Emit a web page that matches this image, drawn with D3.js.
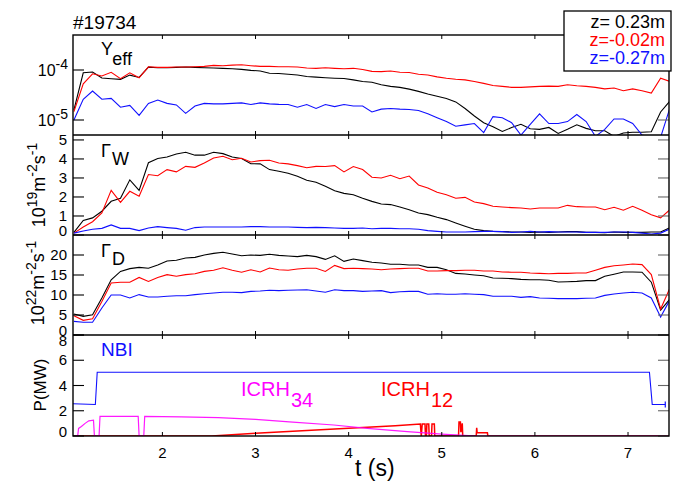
<!DOCTYPE html>
<html><head><meta charset="utf-8">
<script src="https://cdn.jsdelivr.net/npm/d3@7"></script>
<style>body{margin:0;background:#fff} text{font-family:"Liberation Sans",Arial,Helvetica,sans-serif}</style>
</head><body><script>
// ---------- DATA ----------
const time = [1.05,1.15,1.25,1.35,1.45,1.55,1.65,1.75,1.85,1.95,2.05,2.15,2.25,2.35,2.45,2.55,2.65,2.75,2.85,2.95,
  3.05,3.15,3.25,3.35,3.45,3.55,3.65,3.75,3.85,3.95,4.05,4.15,4.25,4.35,4.45,4.55,4.65,4.75,4.85,4.95,
  5.05,5.15,5.25,5.35,5.45,5.55,5.65,5.75,5.85,5.95,6.05,6.15,6.25,6.35,6.45,6.55,6.65,6.75,6.85,6.95,
  7.05,7.15,7.25,7.35,7.45];

const yeffTop = [1.6e-5,8.8e-5,9.1e-5,6.9e-5,6.7e-5,6.5e-5,7.9e-5,7.1e-5,1.14e-4,1.11e-4,
  1.11e-4,1.13e-4,1.15e-4,1.13e-4,1.11e-4,1.1e-4,1.08e-4,1.06e-4,1.03e-4,9.85e-5,
  9.55e-5,8.6e-5,8.5e-5,8.2e-5,7.97e-5,7.4e-5,7.2e-5,7.0e-5,6.85e-5,6.75e-5,
  6.35e-5,5.9e-5,5.7e-5,5.06e-5,4.7e-5,4.5e-5,4.15e-5,3.74e-5,3.3e-5,2.98e-5,
  2.7e-5,2.3e-5,1.7e-5,1.2e-5,8.85e-6,7.3e-6,5.9e-6,7.06e-6,8.2e-6,6.7e-6,
  6.5e-6,7.1e-6,5.4e-6,6.5e-6,8e-6,6.8e-6,6.1e-6,6.1e-6,4.7e-6,5.5e-6,
  5.7e-6,5.7e-6,5.8e-6,1.45e-5,2.4e-5];
const yeffMid = [1.47e-5,5.3e-5,8.4e-5,7.6e-5,9.0e-5,6.7e-5,8.8e-5,7.0e-5,1.16e-4,
  1.13e-4,1.13e-4,1.15e-4,1.15e-4,1.16e-4,1.18e-4,1.24e-4,1.22e-4,1.25e-4,1.27e-4,
  1.22e-4,1.18e-4,1.18e-4,1.16e-4,1.16e-4,1.15e-4,1.1e-4,1.08e-4,1.11e-4,1.08e-4,
  1.06e-4,1.08e-4,1.02e-4,9.4e-5,9.3e-5,9.55e-5,9.0e-5,8.9e-5,8.2e-5,7.97e-5,
  7.3e-5,6.85e-5,6.55e-5,6.35e-5,5.9e-5,5.4e-5,4.9e-5,4.7e-5,4.5e-5,4.5e-5,
  4.6e-5,4.7e-5,4.75e-5,4.7e-5,5.06e-5,4.85e-5,4.7e-5,4.5e-5,4.2e-5,4.35e-5,
  3.85e-5,4.2e-5,3.85e-5,3.46e-5,6.85e-5,5.9e-5];
const yeffLow = [1.0e-5,2.6e-5,3.8e-5,2.6e-5,2.7e-5,1.8e-5,1.96e-5,1.24e-5,2.15e-5,2.5e-5,
  2.15e-5,2.0e-5,1.36e-5,1.9e-5,2.15e-5,2.1e-5,2.1e-5,2.15e-5,2.2e-5,
  2.04e-5,2.2e-5,2.1e-5,2.05e-5,2.04e-5,1.8e-5,2.04e-5,1.7e-5,2.04e-5,1.85e-5,
  2.04e-5,1.9e-5,1.9e-5,1.45e-5,1.65e-5,1.7e-5,1.65e-5,1.62e-5,1.55e-5,1.33e-5,
  1.11e-5,9.3e-6,7.5e-6,8e-6,8.5e-6,5.6e-6,1.17e-5,1.11e-5,8.85e-6,5e-6,
  8.2e-6,1.33e-5,8.5e-6,8.5e-6,9.3e-6,1.29e-5,9.3e-6,4.7e-6,6.5e-6,1.05e-5,
  1.05e-5,8.5e-6,5e-6,4.5e-6,4.5e-6,1.75e-5];

const gwTop = [0.14,0.77,0.9,1.25,1.77,1.93,2.9,2.35,3.8,4.02,
  4.1,4.26,4.35,4.2,4.2,4.35,4.28,4.1,4.02,3.75,
  3.74,3.44,3.35,3.25,3.09,2.88,2.77,2.56,2.33,2.19,
  2.12,1.93,1.77,1.63,1.6,1.47,1.33,1.16,1.07,0.93,
  0.81,0.63,0.46,0.3,0.23,0.19,0.18,0.16,0.16,0.14,
  0.16,0.14,0.16,0.18,0.18,0.14,0.14,0.12,0.16,0.14,
  0.14,0.14,0.16,0.16,0.39];
const gwMid = [0.1,0.42,0.7,1.16,2.35,1.72,2.3,2.04,3.18,3.12,
  3.44,3.32,3.61,3.56,3.79,4.05,4.14,3.96,4.04,3.84,
  3.91,3.93,3.79,3.74,3.65,3.54,3.61,3.6,3.65,3.32,
  3.6,3.44,3.04,3.0,3.14,2.96,3.1,2.63,2.47,2.25,
  2.12,1.93,1.98,1.74,1.65,1.51,1.47,1.44,1.42,1.37,
  1.42,1.42,1.42,1.56,1.49,1.47,1.47,1.33,1.46,1.3,
  1.51,1.3,1.07,0.9,1.33];
const gwLow = [0.1,0.21,0.3,0.35,0.53,0.35,0.35,0.23,0.37,0.44,
  0.39,0.35,0.25,0.39,0.42,0.42,0.42,0.42,0.42,0.44,
  0.44,0.42,0.42,0.42,0.4,0.39,0.4,0.39,0.37,0.35,
  0.35,0.37,0.33,0.35,0.35,0.33,0.33,0.3,0.23,0.19,
  0.16,0.16,0.16,0.18,0.19,0.19,0.18,0.14,0.16,0.19,
  0.16,0.18,0.16,0.16,0.16,0.14,0.14,0.14,0.16,0.16,
  0.14,0.1,0.05,0.1,0.32];

const gdTop = [5.25,4.67,5.08,9.25,13.8,15.9,16.6,16.9,16.7,17.5,
  18.5,18.7,19.25,19.4,20.0,20.4,20.7,20.25,19.8,20.0,
  19.9,20.2,19.9,19.75,19.6,19.9,19.6,18.9,19.8,18.4,
  19.0,18.6,18.2,18.0,17.7,17.7,17.5,17.5,16.9,16.9,
  16.3,15.4,15.25,15.0,14.8,14.25,14.2,14.1,13.9,13.8,
  13.8,13.7,13.25,13.3,13.4,13.6,13.6,14.7,15.2,15.75,
  15.75,15.7,13.2,6.2,9.0];
const gdMid = [4.83,3.67,4.08,8.4,13.0,13.2,13.2,14.4,13.4,14.4,
  15.1,14.7,15.1,15.3,15.9,16.2,16.8,16.2,15.7,16.3,
  15.75,16.75,16.3,16.2,16.5,16.7,16.7,15.9,17.4,16.6,
  16.7,16.6,16.5,16.3,16.5,16.6,16.7,16.7,16.0,16.0,
  16.1,16.1,16.2,16.2,16.0,16.0,15.75,15.7,15.7,15.5,
  15.4,15.3,15.4,15.4,15.5,15.5,16.2,16.9,17.3,17.5,
  17.75,17.6,15.1,6.5,11.75];
const gdLow = [3.4,3.17,3.17,6.75,10.0,10.0,9.25,10.1,9.5,9.5,
  9.67,9.83,9.83,10.1,10.3,10.5,10.7,10.7,10.6,10.9,
  11.0,11.2,11.1,11.2,11.25,11.3,11.0,10.7,11.3,11.1,
  11.1,10.9,11.0,11.1,10.6,10.8,10.9,10.9,10.2,10.3,
  10.2,10.2,10.3,10.2,10.1,9.7,9.7,9.7,9.4,9.6,
  9.25,9.2,9.1,9.1,9.1,9.2,9.25,9.9,10.25,10.5,
  10.7,10.5,9.25,4.5,8.8];

const nbiTime = [1.04,1.28,1.30,7.23,7.26,7.40];
const nbiPower = [2.55,2.5,5.05,5.05,2.5,2.5];
const icrh34Time = [1.04,1.09,1.10,1.13,1.17,1.21,1.26,1.27,1.32,1.33,1.74,1.75,1.80,1.81,2.2,2.6,3.0,3.4,3.84,4.2,4.63,5.0,5.38,7.44];
const icrh34Power = [0,0,0.6,0.75,1.0,1.2,1.25,0,0,1.55,1.55,0,0,1.55,1.52,1.45,1.32,1.1,0.87,0.6,0.34,0.15,0,0];
const icrh12Time = [1.04,2.53,3.0,3.5,4.0,4.5,4.77,4.78,4.79,4.82,4.825,4.835,4.84,4.86,4.865,4.89,4.895,4.92,4.925,
  5.18,5.185,5.20,5.205,5.22,5.225,5.37,5.375,5.38,5.49,5.495,7.44];
const icrh12Power = [0,0,0.22,0.42,0.62,0.82,0.95,0,0.95,0.95,0,0,0.95,0.95,0,0,0.95,0.95,0,
  0,1.1,1.1,0.3,1.0,0,0,0.65,0.25,0.25,0,0];

const timeTicks = [2,3,4,5,6,7];
const yeffTicks = [1e-5,1e-4];
const yeffTickExp = ["-5","-4"];
const gwTicks = [0,1,2,3,4,5];
const gdTicks = [0,5,10,15,20];
const powTicks = [0,2,4,6,8];
const legendLabels = ["z= 0.23m","z=-0.02m","z=-0.27m"];
const shotLabel = "#19734";

// ---------- DRAW ----------
const colors = ["#000000","#ff0000","#1010ff"];
const svg = d3.select("body").append("svg").attr("width",678).attr("height",481);
const x = d3.scaleLinear().domain([1.04,7.44]).range([73,669]);

const panels = [
  {top:35,bottom:135,y:d3.scaleLog().domain([Math.pow(10,-5.3),Math.pow(10,-3.3)]).range([135,35]),
   series:[yeffTop,yeffMid,yeffLow],ticks:yeffTicks},
  {top:135,bottom:235,y:d3.scaleLinear().domain([0,5.26]).range([235,135]),series:[gwTop,gwMid,gwLow],ticks:gwTicks},
  {top:235,bottom:335,y:d3.scaleLinear().domain([0,25]).range([335,235]),series:[gdTop,gdMid,gdLow],ticks:gdTicks},
  {top:335,bottom:436,y:d3.scaleLinear().domain([0,8]).range([436,335]),series:[],ticks:powTicks}
];

const defs = svg.append("defs");
panels.forEach((p,i)=>{
  defs.append("clipPath").attr("id","clip"+i).append("rect")
    .attr("x",73).attr("y",p.top).attr("width",596).attr("height",p.bottom-p.top);
});

panels.forEach((p,i)=>{
  const g = svg.append("g").attr("clip-path","url(#clip"+i+")");
  const line = d3.line().x((d,j)=>x(time[j])).y(d=>p.y(d));
  p.series.forEach((s,k)=>{
    g.append("path").datum(s).attr("d",line).attr("fill","none")
      .attr("stroke",colors[k]).attr("stroke-width",1.1);
  });
  if(i===3){
    const pl = d3.line().x(d=>x(d[0])).y(d=>p.y(d[1]));
    g.append("path").datum(nbiTime.map((t,j)=>[t,nbiPower[j]])).attr("d",pl)
      .attr("fill","none").attr("stroke","#1010ff").attr("stroke-width",1.1);
    g.append("path").datum(icrh12Time.map((t,j)=>[t,icrh12Power[j]])).attr("d",pl)
      .attr("fill","none").attr("stroke","#ff0000").attr("stroke-width",1.5);
    g.append("path").datum(icrh34Time.map((t,j)=>[t,icrh34Power[j]])).attr("d",pl)
      .attr("fill","none").attr("stroke","#ff00ff").attr("stroke-width",1.2).attr("opacity",0.9);
    const tEnd = nbiTime[nbiTime.length-1], pEnd = nbiPower[nbiPower.length-1];
    svg.append("line").attr("x1",x(tEnd)).attr("x2",x(tEnd)).attr("y1",p.y(pEnd)-3).attr("y2",p.y(pEnd)+3)
      .attr("stroke","#1010ff").attr("stroke-width",1.2);
  }
  timeTicks.forEach(t=>{
    svg.append("line").attr("x1",x(t)).attr("x2",x(t)).attr("y1",p.top).attr("y2",p.top+4).attr("stroke","#000");
    svg.append("line").attr("x1",x(t)).attr("x2",x(t)).attr("y1",p.bottom).attr("y2",p.bottom-4).attr("stroke","#000");
  });
  const ylo = p.y.domain()[0];
  p.ticks.forEach((v,j)=>{
    const yy = p.y(v);
    svg.append("line").attr("x1",73).attr("x2",84).attr("y1",yy).attr("y2",yy).attr("stroke","#000").attr("stroke-width",1.1);
    svg.append("line").attr("x1",658).attr("x2",669).attr("y1",yy).attr("y2",yy).attr("stroke","#666").attr("stroke-width",1.1);
    let off = 5;
    if(v===ylo) off = 1;
    if(i===3 && v===8) off = 11;
    if(i===0){
      const tx = svg.append("text").attr("x",68).attr("y",yy+6).attr("text-anchor","end").attr("font-size",16);
      tx.append("tspan").text("10");
      tx.append("tspan").attr("dy",-7).attr("font-size",14).text(yeffTickExp[j]);
    } else {
      svg.append("text").attr("x",67).attr("y",yy+off).attr("text-anchor","end").attr("font-size",15).text(v);
    }
  });
});

svg.append("rect").attr("x",73).attr("y",35).attr("width",596).attr("height",401)
  .attr("fill","none").attr("stroke","#000").attr("stroke-width",1.4);
[135,235,335].forEach(yy=>svg.append("line").attr("x1",73).attr("x2",669).attr("y1",yy).attr("y2",yy)
  .attr("stroke","#000").attr("stroke-width",1.4));

timeTicks.forEach(t=>svg.append("text").attr("x",x(t)).attr("y",458).attr("text-anchor","middle").attr("font-size",15).text(t));
svg.append("text").attr("x",355).attr("y",476).attr("font-size",23).text("t (s)");

svg.append("text").attr("x",73).attr("y",29).attr("font-size",19).text(shotLabel);

svg.append("rect").attr("x",564).attr("y",11).attr("width",107).attr("height",60)
  .attr("fill","#fff").attr("stroke","#000").attr("stroke-width",1.3);
legendLabels.forEach((l,k)=>svg.append("text").attr("x",665).attr("y",28+18*k).attr("text-anchor","end")
  .attr("font-size",18).attr("fill",colors[k]).text(l));

function subLabel(xx,yy,main,sub,dy,color,fs){
  const t = svg.append("text").attr("x",xx).attr("y",yy).attr("font-size",fs).attr("fill",color);
  t.append("tspan").text(main);
  t.append("tspan").attr("dy",dy).attr("dx",1).text(sub);
}
subLabel(101,55,"Y","eff",10,"#000",18);
subLabel(101,157,"Γ","W",8,"#000",18);
subLabel(101,257,"Γ","D",8,"#000",18);
svg.append("text").attr("x",101).attr("y",356).attr("font-size",19).attr("fill","#1010ff").text("NBI");
subLabel(241,396,"ICRH","34",11,"#ff00ff",20);
subLabel(381,396,"ICRH","12",11,"#ff0000",20);

function unitLabel(xx,yy,exp){
  const t = svg.append("text").attr("transform",`translate(${xx},${yy}) rotate(-90)`)
    .attr("text-anchor","middle").attr("font-size",18);
  t.append("tspan").text("10");
  t.append("tspan").attr("dy",-8).attr("font-size",14).text(exp);
  t.append("tspan").attr("dy",8).text("m");
  t.append("tspan").attr("dy",-8).attr("font-size",14).text("-2");
  t.append("tspan").attr("dy",8).text("s");
  t.append("tspan").attr("dy",-8).attr("font-size",14).text("-1");
}
unitLabel(45,185,"19");
unitLabel(44,283,"22");
svg.append("text").attr("transform","translate(46,385) rotate(-90)").attr("text-anchor","middle")
  .attr("font-size",17).text("P(MW)");
</script></body></html>
